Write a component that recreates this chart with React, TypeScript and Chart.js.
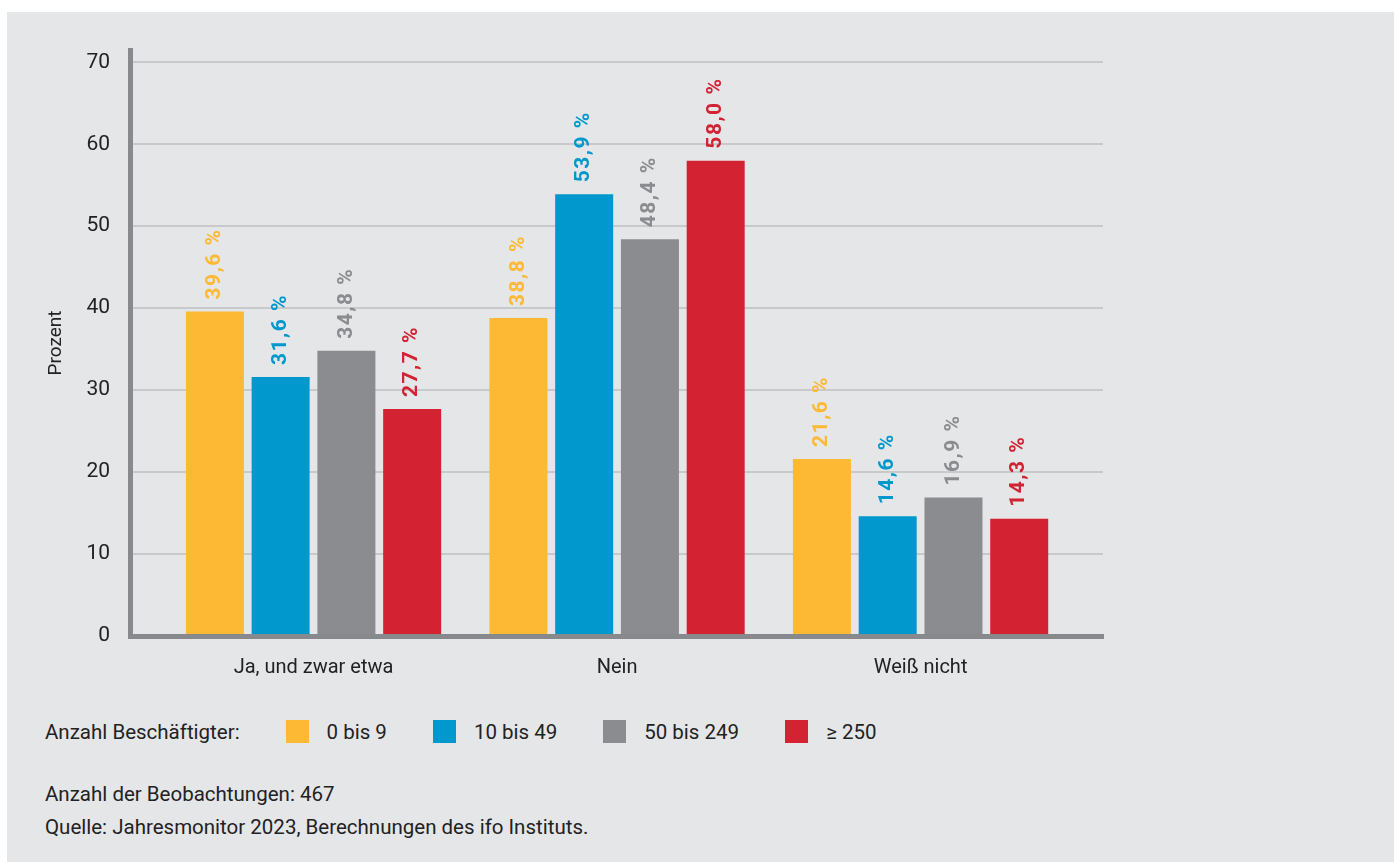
import React, { useEffect, useRef } from "react";
import { Chart, registerables } from "chart.js";

Chart.register(...registerables);

const CATEGORIES = ["Ja, und zwar etwa", "Nein", "Weiß nicht"];
const SERIES_NAMES = ["0 bis 9", "10 bis 49", "50 bis 249", "≥ 250"];
const SERIES_COLORS = ["#FDB933", "#0098CD", "#8B8C8F", "#D32232"];
const VALUES_0_9 = [39.6, 38.8, 21.6];
const VALUES_10_49 = [31.6, 53.9, 14.6];
const VALUES_50_249 = [34.8, 48.4, 16.9];
const VALUES_250 = [27.7, 58.0, 14.3];
const Y_TICKS = [0, 10, 20, 30, 40, 50, 60, 70];
const Y_MAX = 71.5;
const FOOTNOTES = [
  "Anzahl der Beobachtungen: 467",
  "Quelle: Jahresmonitor 2023, Berechnungen des ifo Instituts.",
];
const LEGEND_TITLE = "Anzahl Beschäftigter:";
const Y_TITLE = "Prozent";

const ALL_VALUES = [VALUES_0_9, VALUES_10_49, VALUES_50_249, VALUES_250];
const TEXT_COLOR = "#222222";
const FONT = "Roboto";

const valueLabelPlugin = {
  id: "valueLabels",
  afterDatasetsDraw(chart: any) {
    const ctx = chart.ctx;
    chart.data.datasets.forEach((ds: any, i: number) => {
      const meta = chart.getDatasetMeta(i);
      meta.data.forEach((el: any, j: number) => {
        const { x, y } = el.getProps(["x", "y"], true);
        const v = ds.data[j].y;
        const label = v.toFixed(1).replace(".", ",") + " %";
        ctx.save();
        ctx.translate(x, y - 12);
        ctx.rotate(-Math.PI / 2);
        ctx.font = `bold 21px ${FONT}`;
        try {
          (ctx as any).letterSpacing = "1.5px";
        } catch (e) {}
        ctx.fillStyle = ds.backgroundColor;
        ctx.textAlign = "left";
        ctx.textBaseline = "middle";
        ctx.fillText(label, 0, 0);
        ctx.restore();
      });
    });
  },
};

export default function App() {
  const canvasRef = useRef<HTMLCanvasElement | null>(null);

  useEffect(() => {
    const canvas = canvasRef.current;
    if (!canvas) return;
    const datasets = SERIES_NAMES.map((name, i) => ({
      label: name,
      data: ALL_VALUES[i].map((v, k) => ({ x: k, y: v })),
      backgroundColor: SERIES_COLORS[i],
      borderWidth: 0,
      barPercentage: 0.882,
      categoryPercentage: 0.8666,
    }));
    const chart = new Chart(canvas, {
      type: "bar",
      data: { datasets },
      plugins: [valueLabelPlugin],
      options: {
        responsive: false,
        animation: false,
        layout: { padding: { left: 0, top: 38, right: 291, bottom: 0 } },
        plugins: {
          legend: { display: false },
          tooltip: { enabled: false },
        },
        scales: {
          x: {
            type: "linear",
            position: "bottom",
            offset: false,
            min: -0.6046,
            max: 2.601,
            afterBuildTicks: (scale: any) => {
              scale.ticks = CATEGORIES.map((_, k) => ({ value: k }));
            },
            afterFit: (scale: any) => {
              scale.height = 76;
            },
            grid: { display: false, drawTicks: false, offset: false },
            border: { display: true, width: 5, color: "#88898C", z: 1 },
            ticks: {
              padding: 20,
              color: TEXT_COLOR,
              font: { family: FONT, size: 20 },
              maxRotation: 0,
              autoSkip: false,
              callback: (v: any) => CATEGORIES[v] ?? "",
            },
          },
          y: {
            type: "linear",
            min: 0,
            max: Y_MAX,
            afterBuildTicks: (scale: any) => {
              scale.ticks = Y_TICKS.map((v) => ({ value: v }));
            },
            afterFit: (scale: any) => {
              scale.width = 123;
            },
            grid: { color: "#C8C9CB", lineWidth: 2, drawTicks: false },
            border: { display: true, width: 5, color: "#88898C", z: 1 },
            ticks: {
              padding: 20,
              color: TEXT_COLOR,
              font: { family: FONT, size: 21 },
            },
            title: {
              display: true,
              text: Y_TITLE,
              color: TEXT_COLOR,
              font: { family: FONT, size: 19 },
              padding: { top: 38, bottom: 0 },
            },
          },
        },
      } as any,
    });
    return () => chart.destroy();
  }, []);

  return (
    <div
      style={{
        position: "absolute",
        left: 7,
        top: 12,
        width: 1387,
        height: 850,
        background: "#E5E6E8",
        fontFamily: FONT,
        color: TEXT_COLOR,
      }}
    >
      <canvas
        ref={canvasRef}
        width={1387}
        height={700}
        style={{ position: "absolute", left: 0, top: 0, width: 1387, height: 700 }}
      />
      <div
        style={{
          position: "absolute",
          left: 38,
          top: 708,
          height: 23,
          display: "flex",
          alignItems: "center",
          fontSize: 20.5,
          whiteSpace: "nowrap",
        }}
      >
        <span>{LEGEND_TITLE}</span>
        {SERIES_NAMES.map((name, i) => (
          <React.Fragment key={name}>
            <span
              style={{
                display: "inline-block",
                width: 23,
                height: 23,
                background: SERIES_COLORS[i],
                marginLeft: 46,
              }}
            />
            <span style={{ marginLeft: 18 }}>{name}</span>
          </React.Fragment>
        ))}
      </div>
      <div
        style={{
          position: "absolute",
          left: 38,
          top: 766,
          fontSize: 20.5,
          lineHeight: "33px",
          whiteSpace: "nowrap",
        }}
      >
        {FOOTNOTES.map((t) => (
          <div key={t}>{t}</div>
        ))}
      </div>
    </div>
  );
}
